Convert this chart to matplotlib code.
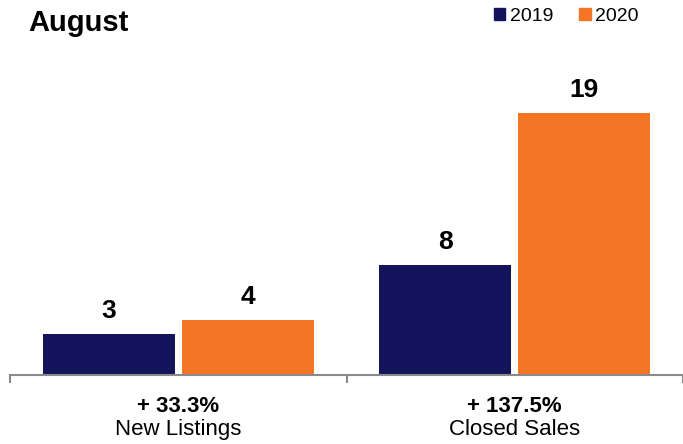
import matplotlib.pyplot as plt
from matplotlib.patches import Patch

# data
categories = ['New Listings', 'Closed Sales']
changes = ['+ 33.3%', '+ 137.5%']
years = ['2019', '2020']
values_2019 = [3, 8]
values_2020 = [4, 19]

navy = '#13145c'
orange = '#f47524'
gray = '#8a8a8a'

plt.rcParams['font.family'] = ['Liberation Sans', 'DejaVu Sans']

W, H = 683, 444
fig = plt.figure(figsize=(W / 100, H / 100), dpi=100)
# axes from x=10px to right edge, bottom at y=375px
ax = fig.add_axes([10 / W, 69 / H, 673 / W, 335 / H])

x = list(range(len(categories)))
bw = 0.392
off = 0.206
b1 = ax.bar([i - off for i in x], values_2019, bw, color=navy)
b2 = ax.bar([i + off for i in x], values_2020, bw, color=orange)

for bars, vals in ((b1, values_2019), (b2, values_2020)):
    for r, v in zip(bars, vals):
        ax.annotate(str(v), (r.get_x() + r.get_width() / 2, v),
                    xytext=(0, 11.5), textcoords='offset points',
                    ha='center', va='baseline', fontsize=19,
                    fontweight='bold', clip_on=False)

ax.set_xlim(-0.5, -0.5 + 673 / 339)
ax.set_ylim(0, 335 / 13.8)

for s in ('top', 'right', 'left'):
    ax.spines[s].set_visible(False)
ax.spines['bottom'].set_color(gray)
ax.spines['bottom'].set_linewidth(1.5)
ax.set_yticks([])
ax.set_xticks([-0.5, 0.5, 1.5])
ax.set_xticklabels([])
ax.tick_params(axis='x', length=6, width=1.5, color=gray, direction='out')

for i, (cat, ch) in enumerate(zip(categories, changes)):
    ax.annotate(ch, (i, 0), xycoords=('data', 'axes fraction'),
                xytext=(0, -26.5), textcoords='offset points',
                ha='center', va='baseline', fontsize=16, fontweight='bold')
    ax.annotate(cat, (i, 0), xycoords=('data', 'axes fraction'),
                xytext=(0, -43), textcoords='offset points',
                ha='center', va='baseline', fontsize=16)

fig.text(28 / W, 1 - 31 / H, 'August', fontsize=21, fontweight='bold',
         ha='left', va='baseline')

handles = [Patch(color=navy), Patch(color=orange)]
fig.legend(handles, years, loc='upper right', bbox_to_anchor=(639 / W, 1 - 8 / H),
           ncol=2, frameon=False, fontsize=14, handlelength=0.6, handleheight=0.6,
           handletextpad=0.25, columnspacing=1.3, borderpad=0, borderaxespad=0)

fig.savefig('out.png', dpi=100)
